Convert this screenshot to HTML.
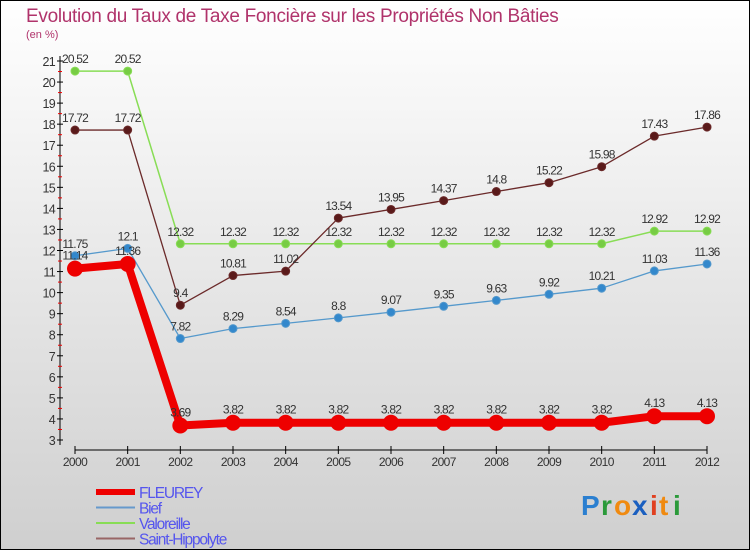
<!DOCTYPE html>
<html><head><meta charset="utf-8"><style>
body{margin:0;width:750px;height:550px;overflow:hidden;font-family:"Liberation Sans","DejaVu Sans",sans-serif}
svg{display:block}
</style></head><body>
<svg id="c" width="750" height="550" xmlns="http://www.w3.org/2000/svg">
<defs><linearGradient id="bg" x1="0" y1="0" x2="0" y2="1"><stop offset="0" stop-color="#ffffff"/><stop offset="1" stop-color="#cfcfcf"/></linearGradient></defs>
<rect x="0.5" y="0.5" width="749" height="549" fill="url(#bg)" stroke="#000"/>
<text x="26" y="22" font-size="19" fill="#b0336b" letter-spacing="-0.3">Evolution du Taux de Taxe Foncière sur les Propriétés Non Bâties</text>
<text x="26" y="38" font-size="11" fill="#b0336b">(en %)</text>
<g id="axes"></g><g id="series"></g><g id="legend"></g>
<g font-size="28" font-weight="bold">
<text x="581" y="515" fill="#2b7fd0">P</text><text x="601" y="515" fill="#2b9a3a">r</text><text x="614" y="515" fill="#f08a10">o</text><text x="632" y="515" fill="#1a5fc0">x</text><text x="650" y="515" fill="#e04020">i</text><text x="659" y="515" fill="#f08a10">t</text><text x="673" y="515" fill="#2b9a3a">i</text>
</g>
</svg>
<script>
const years=[2000,2001,2002,2003,2004,2005,2006,2007,2008,2009,2010,2011,2012];
const fleurey=[11.14,11.36,3.69,3.82,3.82,3.82,3.82,3.82,3.82,3.82,3.82,4.13,4.13];
const bief=[11.75,12.1,7.82,8.29,8.54,8.8,9.07,9.35,9.63,9.92,10.21,11.03,11.36];
const valoreille=[20.52,20.52,12.32,12.32,12.32,12.32,12.32,12.32,12.32,12.32,12.32,12.92,12.92];
const saintHippolyte=[17.72,17.72,9.4,10.81,11.02,13.54,13.95,14.37,14.8,15.22,15.98,17.43,17.86];
const yTicks=[3,4,5,6,7,8,9,10,11,12,13,14,15,16,17,18,19,20,21];
const NS="http://www.w3.org/2000/svg";
const X=i=>75+i*(707-75)/(years.length-1);
const Y=v=>440-(v-3)*(440-61)/18;
function mk(tag,attrs,parent,txt){const e=document.createElementNS(NS,tag);for(const k in attrs)e.setAttribute(k,attrs[k]);if(txt!==undefined)e.textContent=txt;parent.appendChild(e);return e;}
const ax=document.getElementById('axes');
const yl=mk('line',{x1:60,y1:56,x2:60,y2:445,stroke:'#000'},ax);


yTicks.forEach(t=>{
 mk('line',{x1:57,x2:63,y1:Y(t),y2:Y(t),stroke:'#000'},ax);
 if(t<21)mk('line',{x1:58,x2:62,y1:Y(t+0.5),y2:Y(t+0.5),stroke:'#e00'},ax);
 const tx=mk('text',{x:55,y:Y(t)+5,'font-size':12.5,'text-anchor':'end',fill:'#333','letter-spacing':'-0.7'},ax,t);
 
 
});
const xl=mk('line',{x1:75,y1:450,x2:707,y2:450,stroke:'#000'},ax);


years.forEach((y,i)=>{
 mk('line',{x1:X(i),x2:X(i),y1:446,y2:454,stroke:'#000'},ax);
 const tx=mk('text',{x:X(i),y:466,'font-size':12,'text-anchor':'middle',fill:'#333','letter-spacing':'-0.6'},ax,y);
 
 
});
const se=document.getElementById('series');
function draw(name,vals,color,w,r,dot,labelOff){
 const g=mk('g',{},se);
 
 
 mk('polyline',{points:vals.map((v,i)=>X(i)+','+Y(v)).join(' '),fill:'none',stroke:color,'stroke-width':w,'stroke-linejoin':'round'},g);
 vals.forEach((v,i)=>{
  const c=mk('circle',{cx:X(i),cy:Y(v),r:r,fill:dot,stroke:color,'stroke-width':1},g);
  
  
  const t=mk('text',{x:X(i),y:Y(v)+labelOff,'font-size':12,'text-anchor':'middle',fill:'#333','letter-spacing':'-0.8'},g,v);
  
  
 });
}
draw('valoreille',valoreille,'#88dd55',1.5,4,'#77cc44',-8);
draw('saint-hippolyte',saintHippolyte,'#6b2a2a',1.3,4,'#5a1a1a',-8);
draw('bief',bief,'#5599cc',1.3,4,'#3388cc',-8);
draw('fleurey',fleurey,'#ee0000',8,7.5,'#ee0000',-9);
const lg=document.getElementById('legend');
[['FLEUREY','#ee0000',6],['Bief','#6699cc',2],['Valoreille','#88dd55',2],['Saint-Hippolyte','#996666',2]].forEach((d,i)=>{
 const g=mk('g',{},lg);
 
 
 const yy=492+i*15.5;
 mk('line',{x1:96,x2:135,y1:yy,y2:yy,stroke:d[1],'stroke-width':d[2]},g);
 mk('text',{x:139,y:yy+6,'font-size':15.5,fill:'#5555ee','letter-spacing':'-1.2'},g,d[0]);
});
</script>
</body></html>
